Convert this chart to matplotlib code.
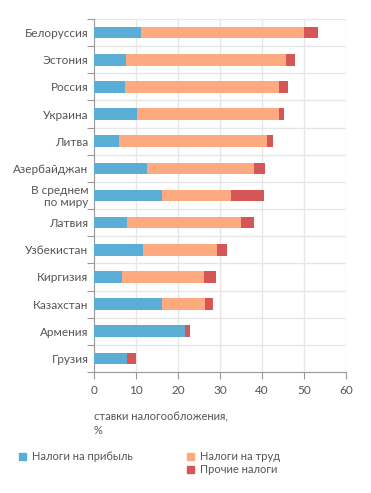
import numpy as np
import matplotlib
matplotlib.use("Agg")
import matplotlib.pyplot as plt
from matplotlib.patches import Patch

plt.rcParams['font.family'] = ['Lato', 'DejaVu Sans']

countries = ['Белоруссия', 'Эстония', 'Россия', 'Украина', 'Литва', 'Азербайджан',
             'В среднем\nпо миру', 'Латвия', 'Узбекистан', 'Киргизия', 'Казахстан',
             'Армения', 'Грузия']
profit = [11.1, 7.7, 7.4, 10.2, 6.0, 12.7, 16.1, 7.9, 11.7, 6.7, 16.3, 21.7, 7.9]
labor = [39.0, 38.0, 36.6, 33.8, 35.1, 25.5, 16.4, 27.2, 17.5, 19.5, 10.1, 0.0, 0.0]
other = [3.2, 2.2, 2.3, 1.2, 1.6, 2.5, 8.0, 3.0, 2.5, 2.8, 1.9, 1.1, 2.0]

c_profit = '#5aaed6'
c_labor = '#fdaa80'
c_other = '#d65557'
txt = '#555555'

fig = plt.figure(figsize=(3.71, 4.93), dpi=100)
ax = fig.add_axes([0.2534, 0.2454, 0.6792, 0.7161])

y = np.arange(len(countries))[::-1]
profit = np.array(profit)
labor = np.array(labor)
other = np.array(other)
h = 0.43
ax.barh(y, profit, height=h, color=c_profit, zorder=3)
ax.barh(y, labor, left=profit, height=h, color=c_labor, zorder=3)
ax.barh(y, other, left=profit + labor, height=h, color=c_other, zorder=3)

ax.set_xlim(0, 60)
ax.set_ylim(-0.5, len(countries) - 0.5)
ax.set_xticks(np.arange(0, 61, 10))
ax.set_yticks(y)
ax.set_yticklabels(countries, fontsize=8.5, color=txt, linespacing=1.1)
ax.set_yticks(np.arange(-0.5, len(countries), 1), minor=True)
ax.tick_params(axis='y', which='major', length=0, pad=4)
ax.tick_params(axis='y', which='minor', length=5, color='#999999', width=0.8)
ax.tick_params(axis='x', length=5, color='#999999', width=0.8, labelsize=8.5,
               labelcolor=txt, pad=4, direction='out')
ax.grid(axis='x', color='#e6e6e6', linewidth=1, zorder=0)
ax.grid(axis='y', which='minor', color='#e6e6e6', linewidth=1, zorder=0)
for s in ['top', 'right']:
    ax.spines[s].set_visible(False)
for s in ['left', 'bottom']:
    ax.spines[s].set_color('#999999')
    ax.spines[s].set_linewidth(0.8)

fig.text(94 / 371, 1 - 424 / 493, 'ставки налогообложения,\n%', fontsize=8,
         color=txt, ha='left', va='center', linespacing=1.3)

leg_kw = dict(loc='upper left', frameon=False, fontsize=8, handlelength=0.6,
              handleheight=0.6, handletextpad=0.6, labelspacing=0.2,
              borderpad=0, borderaxespad=0, labelcolor=txt)
fig.legend([Patch(color=c_profit)], ['Налоги на прибыль'],
           bbox_to_anchor=(19 / 371, 1 - 451 / 493), **leg_kw)
fig.legend([Patch(color=c_labor), Patch(color=c_other)], ['Налоги на труд', 'Прочие налоги'],
           bbox_to_anchor=(187 / 371, 1 - 451 / 493), **leg_kw)

fig.savefig('out.png', dpi=100)
